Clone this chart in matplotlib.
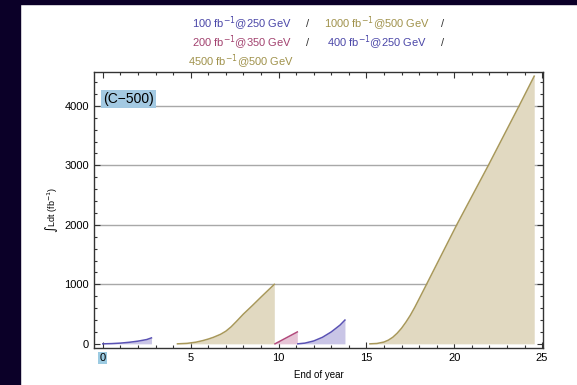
import matplotlib
matplotlib.use("Agg")
import matplotlib.pyplot as plt
from matplotlib.patches import Rectangle
from matplotlib.ticker import MultipleLocator

plt.rcParams['font.family'] = ['Liberation Sans', 'DejaVu Sans']

# run periods: (years, integrated luminosity in fb^-1)
blue1_x = [0.0, 0.5, 1.0, 1.5, 2.0, 2.5, 2.77]
blue1_y = [0, 4, 12, 26, 45, 72, 100]
tan1_x = [4.25, 4.8, 5.3, 5.7, 6.0, 6.3, 6.7, 7.0, 7.3, 7.6, 8.0, 8.5, 9.0, 9.76]
tan1_y = [0, 8, 28, 55, 80, 110, 160, 212, 285, 375, 500, 640, 785, 1000]
pink_x = [9.8, 11.07]
pink_y = [0, 200]
blue2_x = [11.1, 11.5, 12.0, 12.5, 13.0, 13.5, 13.78]
blue2_y = [0, 12, 48, 110, 200, 315, 400]
tan2_x = [15.2, 15.6, 16.0, 16.25, 16.5, 16.75, 17.0, 17.25, 17.5, 17.75, 18.0, 18.38,
          20.14, 21.94, 23.69, 24.55]
tan2_y = [0, 6, 30, 62, 110, 178, 262, 365, 480, 612, 755, 975,
          2000, 3000, 4000, 4500]

BLUE, BLUE_F = '#5a52b4', '#c9c5e6'
PINK, PINK_F = '#b24a7c', '#e6c5d6'
TAN, TAN_F = '#a8985a', '#e1d9c1'

fig = plt.figure(figsize=(5.77, 3.85), dpi=100)
fig.patch.set_facecolor('white')
bg = '#0b0028'
fig.patches.append(Rectangle((0, 0), 20 / 577, 1, transform=fig.transFigure, color=bg, zorder=0))
fig.patches.append(Rectangle((0, 1 - 4 / 385), 1, 4 / 385, transform=fig.transFigure, color=bg, zorder=0))

ax = fig.add_axes([94 / 577, 1 - 348 / 385, (543 - 94) / 577, (348 - 72) / 385])

for xs, ys, lc, fc in [(blue1_x, blue1_y, BLUE, BLUE_F), (tan1_x, tan1_y, TAN, TAN_F),
                       (pink_x, pink_y, PINK, PINK_F), (blue2_x, blue2_y, BLUE, BLUE_F),
                       (tan2_x, tan2_y, TAN, TAN_F)]:
    ax.fill_between(xs, 0, ys, color=fc, lw=0, zorder=2)
    ax.plot(xs, ys, color=lc, lw=1.1, zorder=3)

for g in [1000, 2000, 3000, 4000]:
    ax.axhline(g, color='#a8a8a8', lw=1, zorder=1)

ax.set_xlim(-0.5, 25.05)
ax.set_ylim(-70, 4570)
ax.xaxis.set_major_locator(MultipleLocator(5))
ax.xaxis.set_minor_locator(MultipleLocator(1))
ax.yaxis.set_major_locator(MultipleLocator(1000))
ax.yaxis.set_minor_locator(MultipleLocator(200))
ax.tick_params(which='both', direction='in', top=True, right=True, labelsize=8, colors='#333333',
               labelcolor='black', width=0.8)
ax.tick_params(which='major', length=4)
ax.tick_params(which='minor', length=2)
for s in ax.spines.values():
    s.set_color('#333333')
    s.set_linewidth(1)

ax.set_xticks([0, 5, 10, 15, 20, 25])
ax.set_xticklabels(['0', '5', '10', '15', '20', '25'])
ax.get_xticklabels()[0].set_bbox(dict(facecolor='#9ccbe2', edgecolor='none', pad=1))

ax.set_xlabel('End of year', fontsize=7)
ax.xaxis.set_label_coords(0.5, -0.08)
ax.set_ylabel(r'$\int$Ldt (fb$^{-1}$)', fontsize=6.5, labelpad=3)

ax.text(0.02, 4000, '(C\u2212500)', fontsize=10, va='bottom', ha='left',
        bbox=dict(facecolor='#a3c9e2', edgecolor='none', pad=1.5), zorder=5)

fs = 8
fig.text(192 / 577, 1 - 24 / 385, r'100 fb$^{-1}$@250 GeV', color='#4b47a8', fontsize=fs, va='center')
fig.text(306 / 577, 1 - 24 / 385, '/', color='#333333', fontsize=fs, va='center')
fig.text(324 / 577, 1 - 24 / 385, r'1000 fb$^{-1}$@500 GeV', color='#a0924c', fontsize=fs, va='center')
fig.text(441 / 577, 1 - 24 / 385, '/', color='#333333', fontsize=fs, va='center')
fig.text(192 / 577, 1 - 43 / 385, r'200 fb$^{-1}$@350 GeV', color='#a2426f', fontsize=fs, va='center')
fig.text(306 / 577, 1 - 43 / 385, '/', color='#333333', fontsize=fs, va='center')
fig.text(327 / 577, 1 - 43 / 385, r'400 fb$^{-1}$@250 GeV', color='#4b47a8', fontsize=fs, va='center')
fig.text(441 / 577, 1 - 43 / 385, '/', color='#333333', fontsize=fs, va='center')
fig.text(188 / 577, 1 - 62 / 385, r'4500 fb$^{-1}$@500 GeV', color='#a0924c', fontsize=fs, va='center')

fig.savefig('out.png', dpi=100)
